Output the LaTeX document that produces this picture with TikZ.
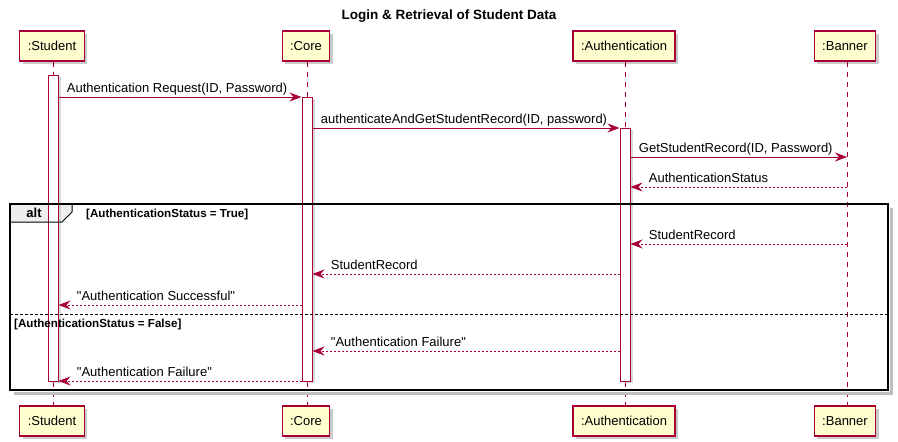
\documentclass[tikz,border=0pt]{standalone}
\usepackage{fontspec}
\setmainfont{Liberation Sans}
\usetikzlibrary{arrows.meta,shadows}

\definecolor{umlred}{HTML}{A80036}
\definecolor{umlbox}{HTML}{FEFECE}
\definecolor{tabgray}{HTML}{EEEEEE}

\tikzset{
  part/.style={draw=umlred, fill=umlbox, line width=1.2pt, minimum height=30pt,
    inner xsep=8pt, font=\fontsize{13}{15}\selectfont,
    drop shadow={shadow xshift=3pt, shadow yshift=-3pt, fill=black!35, opacity=.6}},
  life/.style={umlred, line width=0.8pt, dash pattern=on 5pt off 5pt},
  actbar/.style={draw=umlred, fill=white, line width=1pt, minimum width=10pt, inner sep=0pt,
    drop shadow={shadow xshift=3pt, shadow yshift=-2pt, fill=black!25, opacity=.6}},
  msg/.style={umlred, line width=0.9pt, -{Stealth[length=12pt, width=9pt, inset=4pt]}},
  ret/.style={msg, dash pattern=on 2pt off 2pt},
  lbl/.style={text=black, anchor=base west, inner sep=0pt, yshift=5pt, font=\fontsize{13}{15}\selectfont},
  guard/.style={text=black, anchor=base west, inner sep=0pt, font=\bfseries\fontsize{11.6}{13}\selectfont}
}

\begin{document}
\begin{tikzpicture}[x=1pt, y=-1pt]
  \useasboundingbox (0,0) rectangle (898,442);

  \node[font=\bfseries\fontsize{13.5}{16}\selectfont] (title) at (449,16) {Login \& Retrieval of Student Data};

  % participants
  \node[part] (stuTop) at (52,46) {:Student};
  \node[part] (coreTop) at (306,46) {:Core};
  \node[part] (authTop) at (624,46) {:Authentication};
  \node[part] (banTop) at (845,46) {:Banner};

  \node[part] (stuBot) at (52,421) {:Student};
  \node[part] (coreBot) at (306,421) {:Core};
  \node[part] (authBot) at (624,421) {:Authentication};
  \node[part] (banBot) at (845,421) {:Banner};

  % lifelines
  \coordinate (stu) at (53,0);
  \coordinate (core) at (307,0);
  \coordinate (auth) at (625,0);
  \coordinate (ban) at (847,0);
  \draw[life] (stu |- stuTop.south) -- (stu |- stuBot.north);
  \draw[life] (core |- coreTop.south) -- (core |- coreBot.north);
  \draw[life] (auth |- authTop.south) -- (auth |- authBot.north);
  \draw[life] (ban |- banTop.south) -- (ban |- banBot.north);

  % alt frame
  \draw[black!25, line width=3pt] (891.5,208) -- (891.5,393.5) -- (14,393.5);
  \fill[tabgray] (10,204) -- (72,204) -- (72,212) -- (62,222) -- (10,222) -- cycle;

  % activations
  \node[actbar, minimum height=306pt] (actS) at (53,228) {};
  \node[actbar, minimum height=284pt] (actC) at (307,239) {};
  \node[actbar, minimum height=253pt] (actA) at (625,254.5) {};

  \draw[line width=1.5pt] (10,204) rectangle (888,390);
  \draw[line width=1pt] (10,222) -- (62,222) -- (72,212) -- (72,204);
  \node[font=\bfseries\fontsize{13}{15}\selectfont, inner sep=0pt] (altTag) at (34,213) {alt};
  \node[guard] (g1) at (86,217) {[AuthenticationStatus = True]};
  \draw[line width=0.8pt, dash pattern=on 3pt off 2pt] (10,314.5) -- (888,314.5);
  \node[guard] (g2) at (14,327) {[AuthenticationStatus = False]};

  % messages
  \draw[msg] (actS.east |- 0,97) -- node[lbl, pos=0, xshift=8pt] (l1) {Authentication Request(ID, Password)} (actC.west |- 0,97);
  \draw[msg] (actC.east |- 0,128) -- node[lbl, pos=0, xshift=8pt] (l2) {authenticateAndGetStudentRecord(ID, password)} (actA.west |- 0,128);
  \draw[msg] (actA.east |- 0,157) -- node[lbl, pos=0, xshift=8pt] (l3) {GetStudentRecord(ID, Password)} (ban |- 0,157);
  \draw[ret] (ban |- 0,187) -- node[lbl, pos=1, xshift=18pt] (l4) {AuthenticationStatus} (actA.east |- 0,187);
  \draw[ret] (ban |- 0,244) -- node[lbl, pos=1, xshift=18pt] (l5) {StudentRecord} (actA.east |- 0,244);
  \draw[ret] (actA.west |- 0,274) -- node[lbl, pos=1, xshift=18pt] (l6) {StudentRecord} (actC.east |- 0,274);
  \draw[ret] (actC.west |- 0,305) -- node[lbl, pos=1, xshift=18pt] (l7) {\textquotedbl Authentication Successful\textquotedbl} (actS.east |- 0,305);
  \draw[ret] (actA.west |- 0,351) -- node[lbl, pos=1, xshift=18pt] (l8) {\textquotedbl Authentication Failure\textquotedbl} (actC.east |- 0,351);
  \draw[ret] (actC.west |- 0,381) -- node[lbl, pos=1, xshift=18pt] (l9) {\textquotedbl Authentication Failure\textquotedbl} (actS.east |- 0,381);
\end{tikzpicture}
\end{document}
